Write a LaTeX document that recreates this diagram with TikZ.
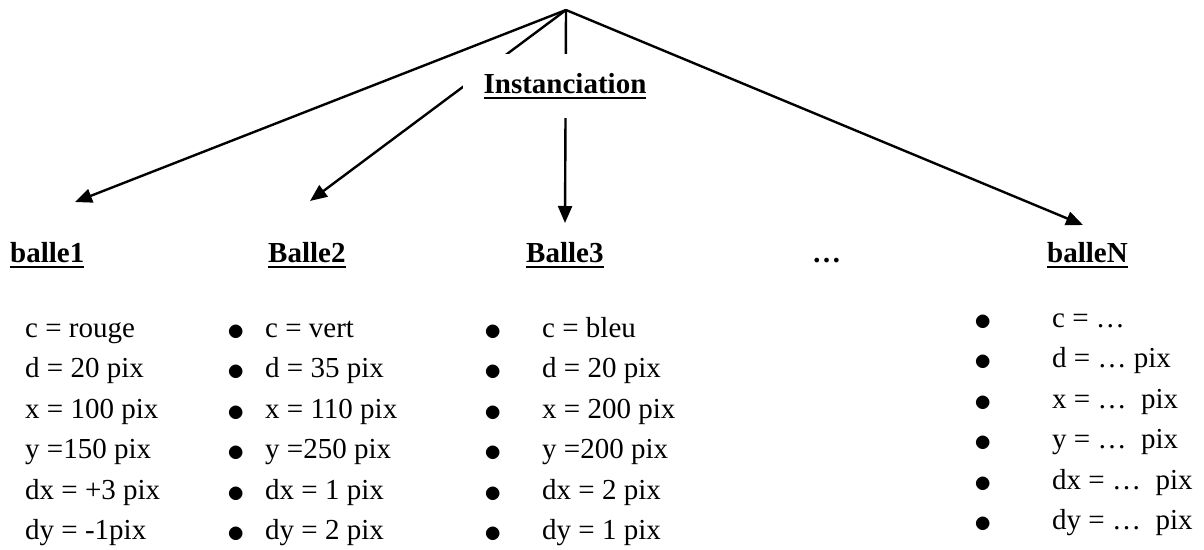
\documentclass[tikz,border=0pt]{standalone}
\usepackage{fontspec}
\usepackage{graphicx}
\setmainfont{Liberation Serif}
\usetikzlibrary{arrows.meta, positioning, backgrounds}
\newcommand\souligne[1]{\setbox0\hbox{#1}\rlap{\rule[-6pt]{\wd0}{2.5pt}}\box0}
\newcommand\puce{\raisebox{-3pt}{\scalebox{1.4}{$\bullet$}}}
\tikzset{
  titre/.style={
    font=\fontsize{29}{35}\selectfont\bfseries,
    inner sep=0pt, anchor=base west
  },
  liste/.style={
    font=\fontsize{29}{40.5}\selectfont,
    inner sep=0pt, anchor=base west
  },
  fleche/.style={-{Triangle[length=17pt, width=14pt]}, line width=2.4pt},
}

\begin{document}
\begin{tikzpicture}[x=1pt, y=-1pt]
  \useasboundingbox (0,0) rectangle (1204,549);

  % Sommet et titre
  \coordinate (sommet) at (566,10);
  \node[titre, anchor=base, fill=white, inner xsep=21pt, inner ysep=19pt]
        (inst) at (565,93) {\souligne{Instanciation}};

  % Objets
  \node[titre] (balle1) at (10,262)   {\souligne{balle1}};
  \node[titre] (balle2) at (268,262)  {\souligne{Balle2}};
  \node[titre] (balle3) at (526,262)  {\souligne{Balle3}};
  \node[titre] (etc)    at (812,262)  {…};
  \node[titre] (ballen) at (1047,262) {\souligne{balleN}};

  % Attributs
  \node[liste] (attr1) at (25,337) {\begin{tabular}[t]{@{}l@{}}
    c = rouge\\ d = 20 pix\\ x = 100 pix\\ y =150 pix\\ dx = +3 pix\\ dy = -1pix
  \end{tabular}};
  \node[liste] (attr2) at (227,337) {\begin{tabular}[t]{@{}p{38pt}@{}l@{}}
    \puce & c = vert\\ \puce & d = 35 pix\\ \puce & x = 110 pix\\
    \puce & y =250 pix\\ \puce & dx = 1 pix\\ \puce & dy = 2 pix
  \end{tabular}};
  \node[liste] (attr3) at (484,337) {\begin{tabular}[t]{@{}p{58pt}@{}l@{}}
    \puce & c = bleu\\ \puce & d = 20 pix\\ \puce & x = 200 pix\\
    \puce & y =200 pix\\ \puce & dx = 2 pix\\ \puce & dy = 1 pix
  \end{tabular}};
  \node[liste] (attrn) at (974,327) {\begin{tabular}[t]{@{}p{78pt}@{}l@{}}
    \puce & c = …\\ \puce & d = … pix\\ \puce & x = … \ pix\\
    \puce & y = … \ pix\\ \puce & dx = … \ pix\\ \puce & dy = … \ pix
  \end{tabular}};

  % Pointes des fleches
  \coordinate (p1) at (75,202);
  \coordinate (p2) at (310,201);
  \coordinate (p3) at (565,223);
  \coordinate (pn) at (1083,225);

  % Fleches
  \begin{scope}[on background layer]
    \draw[fleche] (sommet) -- (p1);
    \draw[fleche] (sommet) -- (p2);
    \draw[fleche] (sommet) -- (p3);
    \draw[fleche] (sommet) -- (pn);
  \end{scope}

\end{tikzpicture}
\end{document}
